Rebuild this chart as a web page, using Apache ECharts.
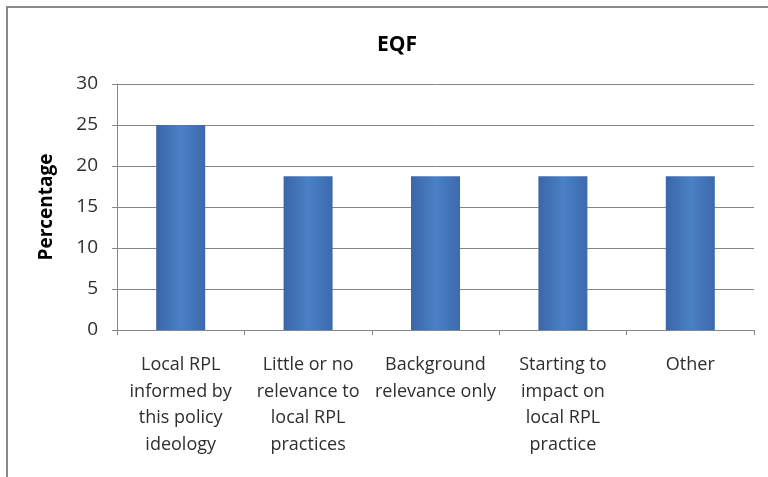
<!DOCTYPE html>
<html><head><meta charset="utf-8">
<script src="https://cdn.jsdelivr.net/npm/echarts@6/dist/echarts.min.js"></script>
<style>html,body{margin:0;padding:0;background:#fff}#c{width:768px;height:477px}</style>
</head><body><div id="c"></div>
<script>
const titleText = 'EQF';
const yAxisName = 'Percentage';
const categories = [
  'Local RPL\ninformed by\nthis policy\nideology',
  'Little or no\nrelevance to\nlocal RPL\npractices',
  'Background\nrelevance only',
  'Starting to\nimpact on\nlocal RPL\npractice',
  'Other'
];
const values = [25, 18.75, 18.75, 18.75, 18.75];
const yMin = 0, yMax = 30, yInterval = 5;

const font = 'Open Sans';
const chart = echarts.init(document.getElementById('c'));
chart.setOption({
  backgroundColor: '#fff',
  animation: false,
  title: {
    text: titleText, left: 392, top: 30, textAlign: 'center',
    textStyle: {fontFamily: font, fontWeight: 'bold', fontSize: 21, color: '#000'}
  },
  graphic: [{
    type: 'rect', shape: {x: 7, y: 7, width: 820, height: 520},
    style: {fill: 'none', stroke: '#8a8a8a', lineWidth: 2}, silent: true
  }],
  grid: {left: 117, right: 14, top: 84, bottom: 147},
  xAxis: {
    type: 'category', data: categories,
    axisLine: {lineStyle: {color: '#868686', width: 1}},
    axisTick: {show: true, length: 5, lineStyle: {color: '#868686'}},
    axisLabel: {fontFamily: font, fontSize: 18, color: '#2e2e2e', lineHeight: 26.5, margin: 22, interval: 0, align: 'center'}
  },
  yAxis: {
    type: 'value', min: yMin, max: yMax, interval: yInterval,
    name: yAxisName, nameLocation: 'middle', nameGap: 61,
    nameTextStyle: {fontFamily: font, fontWeight: 'bold', fontSize: 19, color: '#000'},
    axisLine: {show: true, lineStyle: {color: '#868686'}},
    axisTick: {show: true, length: 5, lineStyle: {color: '#868686'}},
    splitLine: {lineStyle: {color: '#868686', width: 1}},
    axisLabel: {fontFamily: font, fontSize: 19, color: '#2e2e2e', margin: 19}
  },
  series: [{
    type: 'bar', data: values, barWidth: 49,
    itemStyle: {
      color: new echarts.graphic.LinearGradient(0, 0, 1, 0, [
        {offset: 0, color: '#3a66a9'},
        {offset: 0.5, color: '#4a80c4'},
        {offset: 1, color: '#3d6aae'}
      ])
    }
  }]
});
</script></body></html>
